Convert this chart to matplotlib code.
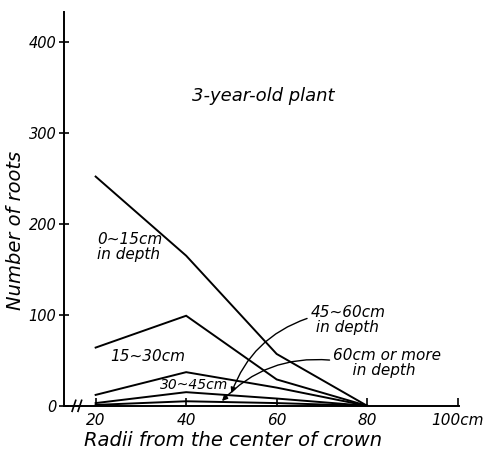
import matplotlib.pyplot as plt

radii = [20, 40, 60, 80]
depth_0_15 = [252, 165, 57, 0]
depth_15_30 = [64, 99, 29, 0]
depth_30_45 = [12, 37, 20, 0]
depth_45_60 = [3, 15, 8, 0]
depth_60_plus = [1, 5, 3, 0]

x_ticks = [20, 40, 60, 80, 100]
x_tick_labels = ["20", "40", "60", "80", "100cm"]
y_ticks = [0, 100, 200, 300, 400]

plt.rcParams["font.family"] = ["DejaVu Sans"]
plt.rcParams["font.style"] = "italic"

fig = plt.figure(figsize=(4.92, 4.57), dpi=100)
ax = fig.add_axes([0.130, 0.112, 0.803, 0.862])

for vals in [depth_0_15, depth_15_30, depth_30_45, depth_45_60, depth_60_plus]:
    ax.plot(radii, vals, color="black", lw=1.4, solid_joinstyle="miter")

ax.set_xlim(13, 100.3)
ax.set_ylim(0, 433)
ax.spines["top"].set_visible(False)
ax.spines["right"].set_visible(False)
for s in ["left", "bottom"]:
    ax.spines[s].set_linewidth(1.4)

ax.set_xticks(x_ticks)
ax.set_xticklabels(x_tick_labels, fontsize=11)
ax.set_yticks(y_ticks)
ax.set_yticklabels([str(v) for v in y_ticks], fontsize=10.5)
ax.tick_params(axis="x", direction="in", length=6, width=1.2, pad=5)
ax.tick_params(axis="y", direction="inout", length=7, width=1.2, pad=2)

# axis break marks
for dx in (0, 1.3):
    ax.plot([14.8 + dx, 15.6 + dx], [-6, 6], color="black", lw=1.2,
            clip_on=False)

fig.text(233 / 492, 1 - 440 / 457, "Radii from the center of crown",
         fontsize=14, ha="center", va="center")
fig.text(16 / 492, 1 - 230 / 457, "Number of roots", fontsize=14,
         ha="center", va="center", rotation=90)

ax.text(57, 340, "3-year-old plant", fontsize=13, ha="center", va="center")
ax.text(20.3, 175, "0~15cm\nin depth", fontsize=11, ha="left", va="center",
        linespacing=1.0)
ax.text(31.5, 54, "15~30cm", fontsize=11, ha="center", va="center")
ax.text(41.8, 23, "30~45cm", fontsize=10, ha="center", va="center")
ax.text(67.5, 94, "45~60cm\n in depth", fontsize=11, ha="left", va="center",
        linespacing=1.0)
ax.text(72.5, 47, "60cm or more\n    in depth", fontsize=11, ha="left",
        va="center", linespacing=1.0)

ax.annotate("", xy=(49.8, 11), xytext=(67.3, 97),
            arrowprops=dict(arrowstyle="-|>", color="black", lw=1.0,
                            mutation_scale=8,
                            connectionstyle="arc3,rad=0.25"))
ax.annotate("", xy=(47.5, 3), xytext=(72.3, 50),
            arrowprops=dict(arrowstyle="-|>", color="black", lw=1.0,
                            mutation_scale=8,
                            connectionstyle="arc3,rad=0.25"))

fig.savefig("out.png", dpi=100)
